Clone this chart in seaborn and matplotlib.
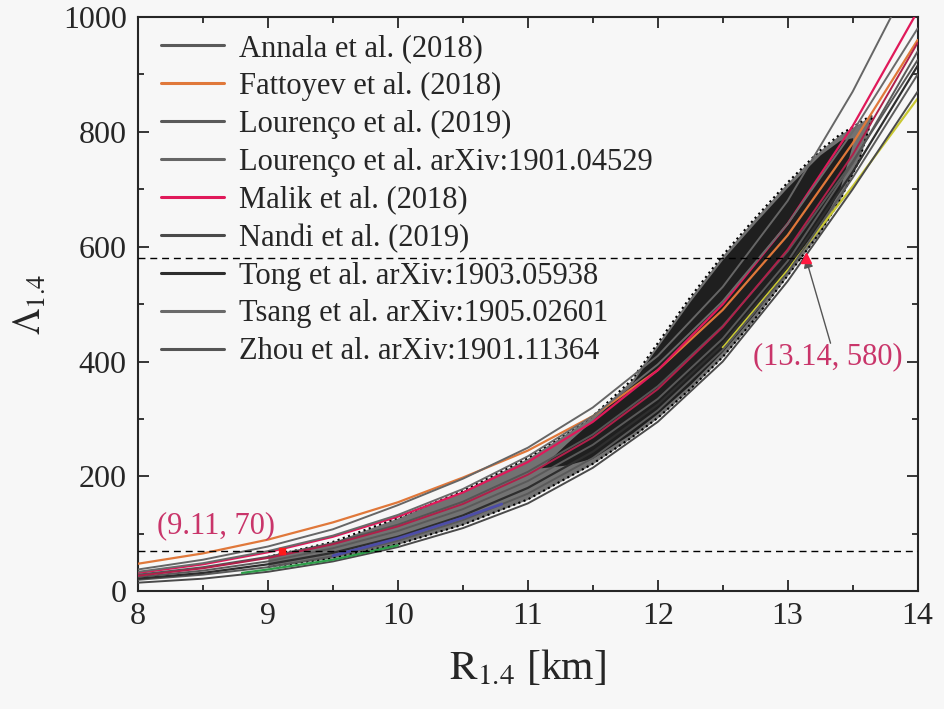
import numpy as np
import pandas as pd
import matplotlib
matplotlib.use("Agg")
import matplotlib.pyplot as plt
import seaborn as sns
from matplotlib.ticker import MultipleLocator

sns.set_style("ticks")
plt.rcParams["font.family"] = ["Liberation Serif", "DejaVu Serif"]
plt.rcParams["mathtext.fontset"] = "stix"

# ---------------- data ----------------
R_grid = [8.0, 8.5, 9.0, 9.5, 10.0, 10.5, 11.0, 11.5, 12.0, 12.5, 13.0, 13.5, 14.0]

annala   = [25, 36, 52, 75, 105, 143, 192, 255, 335, 440, 575, 745, 940]
fattoyev = [48, 66, 90, 120, 155, 198, 245, 305, 385, 490, 620, 780, 960]
lour2019 = [20, 29, 42, 61, 88, 124, 170, 232, 315, 420, 555, 720, 900]
lourarx  = [38, 55, 78, 108, 150, 196, 250, 320, 410, 530, 680, 870, 1090]
malik_a  = [32, 47, 68, 95, 130, 172, 225, 295, 385, 500, 640, 810, 1010]
malik_b  = [27, 40, 58, 82, 113, 152, 203, 268, 352, 460, 595, 760, 955]
nandi    = [15, 22, 34, 52, 77, 110, 153, 215, 295, 400, 540, 700, 870]
tong     = [22, 32, 47, 67, 95, 132, 180, 243, 325, 430, 565, 730, 915]
tsang    = [34, 49, 70, 97, 133, 178, 235, 305, 395, 505, 640, 800, 980]
zhou     = [29, 42, 60, 84, 116, 156, 208, 273, 357, 462, 592, 748, 925]

# short coloured fragments
blue_R = [9.5, 10.0, 10.5, 10.8]
blue_L = [62, 92, 128, 152]
green_R = [8.8, 9.0, 9.5, 10.0]
green_L = [32, 38, 55, 80]
yellow_R = [12.5, 13.0, 13.5, 14.0]
yellow_L = [425, 560, 705, 858]

# black band of sampled EOS (upper / lower edges)
band_R   = [9.0, 9.5, 10.0, 10.5, 11.0, 11.5, 11.8, 12.0, 12.25, 12.5, 12.75, 13.0, 13.25, 13.4, 13.55, 13.65]
band_top = [60, 86, 128, 175, 232, 305, 368, 432, 512, 585, 650, 712, 768, 795, 815, 830]
band_bot = [42, 58, 82, 116, 160, 222, 268, 302, 352, 408, 475, 550, 625, 680, 750, 825]

# denser inner part of the band
core_R   = [11.1, 11.3, 11.5, 11.8, 12.0, 12.25, 12.5, 12.75, 13.0, 13.25, 13.4, 13.5]
core_top = [215, 258, 298, 362, 426, 505, 578, 642, 704, 760, 785, 790]
core_bot = [215, 220, 232, 275, 310, 360, 418, 485, 560, 635, 700, 780]

labels = ["Annala et al. (2018)", "Fattoyev et al. (2018)", "Lourenço et al. (2019)",
          "Lourenço et al. arXiv:1901.04529", "Malik et al. (2018)", "Nandi et al. (2019)",
          "Tong et al. arXiv:1903.05938", "Tsang et al. arXiv:1905.02601",
          "Zhou et al. arXiv:1901.11364"]

lambda_lo, lambda_hi = 70, 580
pt_lo = (9.11, 70)
pt_hi = (13.14, 580)

# ---------------- figure ----------------
bg = "#f7f7f7"
fig = plt.figure(figsize=(9.45, 7.09), dpi=100, facecolor=bg)
ax = fig.add_axes([0.146, 0.166, 0.825, 0.810], facecolor=bg)

ax.fill_between(band_R, band_bot, band_top, color="#1a1a1a", alpha=0.6, lw=0, zorder=1)
ax.fill_between(core_R, core_bot, core_top, color="#111111", alpha=0.85, lw=0, zorder=1)
ax.plot(band_R, band_top, ls=":", lw=1.5, color="k", zorder=1)
ax.plot(band_R, band_bot, ls=":", lw=1.5, color="k", zorder=1)

gray = "#5a5a5a"
series = [
    (annala, gray, labels[0], 1.4),
    (fattoyev, "#e0783a", labels[1], 1.6),
    (lour2019, gray, labels[2], 1.4),
    (lourarx, "#666666", labels[3], 1.4),
    (malik_a, "#e0195a", labels[4], 1.6),
    (nandi, "#4a4a4a", labels[5], 1.4),
    (tong, "#2e2e2e", labels[6], 1.6),
    (tsang, "#6a6a6a", labels[7], 1.4),
    (zhou, "#555555", labels[8], 1.4),
]
for vals, col, lab, lw in series:
    sns.lineplot(x=R_grid, y=vals, color=col, lw=lw, label=lab, ax=ax, zorder=3)
sns.lineplot(x=R_grid, y=malik_b, color="#b0204a", lw=1.4, ax=ax, legend=False, zorder=3)
sns.lineplot(x=blue_R, y=blue_L, color="#4d4da8", lw=2.0, ax=ax, legend=False, zorder=3)
sns.lineplot(x=green_R, y=green_L, color="#2e9e4a", lw=1.6, ax=ax, legend=False, zorder=3)
sns.lineplot(x=yellow_R, y=yellow_L, color="#c9c832", lw=1.6, ax=ax, legend=False, zorder=2.5)

ax.axhline(lambda_hi, color="k", ls=(0, (5, 3.5)), lw=1.0, zorder=4)
ax.axhline(lambda_lo, color="k", ls=(0, (5, 3.5)), lw=1.0, zorder=4)

anno_col = "#c9356a"
ax.plot(*pt_lo, marker="s", ms=5, color="#ff1a1a", zorder=5)
ax.text(8.15, 115, "(9.11, 70)", color=anno_col, fontsize=22, va="center", ha="left", zorder=5)
ax.annotate("", xy=pt_hi, xytext=(13.33, 432),
            arrowprops=dict(arrowstyle="-|>", color="#555555", lw=1.0,
                            mutation_scale=14, shrinkA=0, shrinkB=0), zorder=5)
ax.plot(*pt_hi, marker="^", ms=7, color="#ff1a40", zorder=6)
ax.text(13.31, 408, "(13.14, 580)", color=anno_col, fontsize=22, va="center", ha="center", zorder=5)

ax.set_xlim(8, 14)
ax.set_ylim(0, 1000)
ax.xaxis.set_major_locator(MultipleLocator(1))
ax.xaxis.set_minor_locator(MultipleLocator(0.5))
ax.yaxis.set_major_locator(MultipleLocator(200))
ax.yaxis.set_minor_locator(MultipleLocator(100))
ax.tick_params(which="both", direction="in", top=True, right=True, labelsize=23, width=1.3)
ax.tick_params(which="major", length=8, pad=8)
ax.tick_params(which="minor", length=4)
for s in ax.spines.values():
    s.set_linewidth(1.5)
    s.set_visible(True)

ax.set_xlabel(r"$\mathrm{R}_{1.4}$ [km]", fontsize=30, labelpad=12)
ax.set_ylabel(r"$\Lambda_{1.4}$", fontsize=27, labelpad=10)

leg = ax.legend(loc="upper left", frameon=False, fontsize=22, handlelength=2.05,
                handletextpad=0.5, labelspacing=0.29, borderaxespad=0.1,
                bbox_to_anchor=(0.01, 0.997))
for h in leg.get_lines():
    h.set_linewidth(2.2)

fig.savefig("out.png", dpi=100, facecolor=bg)
